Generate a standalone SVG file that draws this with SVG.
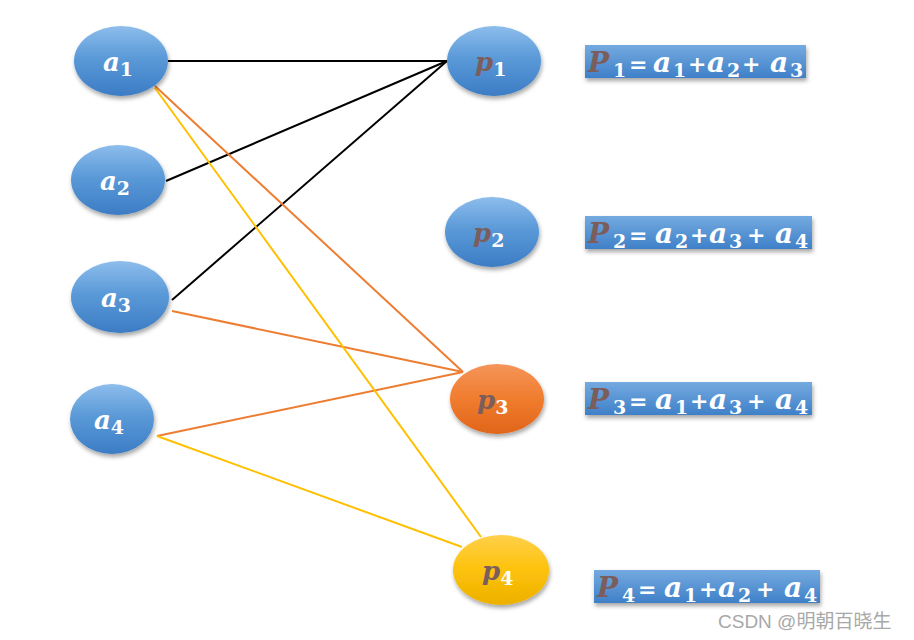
<svg xmlns="http://www.w3.org/2000/svg" width="914" height="640" viewBox="0 0 914 640">
<defs>
<linearGradient id="gBlue" x1="0" y1="0" x2="0" y2="1"><stop offset="0" stop-color="#8dbdec"/><stop offset="0.45" stop-color="#5b9ad8"/><stop offset="1" stop-color="#3c7cc4"/></linearGradient>
<linearGradient id="gOrange" x1="0" y1="0" x2="0" y2="1"><stop offset="0" stop-color="#f4955a"/><stop offset="0.5" stop-color="#f07c2e"/><stop offset="1" stop-color="#e0651a"/></linearGradient>
<linearGradient id="gYellow" x1="0" y1="0" x2="0" y2="1"><stop offset="0" stop-color="#ffd04a"/><stop offset="0.5" stop-color="#fdc20a"/><stop offset="1" stop-color="#ecb000"/></linearGradient>
<linearGradient id="gBox" x1="0" y1="0" x2="0" y2="1"><stop offset="0" stop-color="#74aae0"/><stop offset="1" stop-color="#3f80c8"/></linearGradient>
<filter id="sh" x="-20%" y="-20%" width="140%" height="150%"><feDropShadow dx="1" dy="3" stdDeviation="2" flood-color="#000" flood-opacity="0.35"/></filter>
</defs>
<style>
.lbl{font-family:"DejaVu Serif","Liberation Serif",serif;font-style:italic;font-weight:bold;font-size:26px;}
.sub{font-family:"DejaVu Serif","Liberation Serif",serif;font-style:normal;font-weight:bold;font-size:19px;fill:#fff;}
.w{fill:#fff;}
.br{fill:#7b5e5c;}
.fx{font-family:"DejaVu Serif","Liberation Serif",serif;font-weight:bold;font-size:22px;fill:#fff;}
.fx .it{font-style:italic;font-size:28px;}
.fx .s{font-size:19px;}
.blk{stroke:#000;stroke-width:2;fill:none;}
.org{stroke:#ed7d31;stroke-width:2;fill:none;}
.yel{stroke:#ffc000;stroke-width:2;fill:none;}
.box{fill:url(#gBox);filter:url(#sh);}
</style>
<rect width="914" height="640" fill="#fff"/>
<g id="connectors">
<line class="blk" x1="168" y1="61" x2="447" y2="61"/>
<line class="blk" x1="166" y1="181" x2="447" y2="61"/>
<line class="blk" x1="172" y1="300" x2="447" y2="61"/>
<line class="org" x1="155" y1="86" x2="463" y2="372"/>
<line class="org" x1="172" y1="311" x2="463" y2="372"/>
<line class="org" x1="157" y1="436" x2="463" y2="372"/>
<line class="yel" x1="155" y1="88" x2="481" y2="537"/>
<line class="yel" x1="157" y1="436" x2="462" y2="547"/>
</g>
<g id="a1"><ellipse cx="121" cy="61" rx="47" ry="35" fill="url(#gBlue)" filter="url(#sh)"/><text class="lbl w" x="103" y="71">a<tspan class="sub" dy="5">1</tspan></text></g>
<g id="a2"><ellipse cx="118" cy="180" rx="47" ry="35" fill="url(#gBlue)" filter="url(#sh)"/><text class="lbl w" x="100" y="190">a<tspan class="sub" dy="5">2</tspan></text></g>
<g id="a3"><ellipse cx="120" cy="297" rx="49" ry="36" fill="url(#gBlue)" filter="url(#sh)"/><text class="lbl w" x="101" y="307">a<tspan class="sub" dy="5">3</tspan></text></g>
<g id="a4"><ellipse cx="112" cy="419" rx="42" ry="35" fill="url(#gBlue)" filter="url(#sh)"/><text class="lbl w" x="94" y="429">a<tspan class="sub" dy="5">4</tspan></text></g>
<g id="p1"><ellipse cx="494" cy="61" rx="47" ry="35" fill="url(#gBlue)" filter="url(#sh)"/><text class="lbl br" x="475" y="71">p<tspan class="sub" dy="5">1</tspan></text></g>
<g id="p2"><ellipse cx="492" cy="232" rx="47" ry="35" fill="url(#gBlue)" filter="url(#sh)"/><text class="lbl br" x="473" y="242">p<tspan class="sub" dy="5">2</tspan></text></g>
<g id="p3"><ellipse cx="497" cy="399" rx="47" ry="35" fill="url(#gOrange)" filter="url(#sh)"/><text class="lbl br" x="477" y="409">p<tspan class="sub" dy="5">3</tspan></text></g>
<g id="p4"><ellipse cx="501" cy="570" rx="48" ry="35" fill="url(#gYellow)" filter="url(#sh)"/><text class="lbl br" x="482" y="580">p<tspan class="sub" dy="5">4</tspan></text></g>
<g id="f1"><rect class="box" x="585" y="45" width="221" height="33"/>
<text class="fx"><tspan class="it br" x="588" y="72">P</tspan><tspan class="s" x="613" y="77">1</tspan><tspan x="629" y="72">=</tspan><tspan class="it" x="653" y="72">a</tspan><tspan class="s" x="673" y="77">1</tspan><tspan x="688" y="72">+</tspan><tspan class="it" x="707" y="72">a</tspan><tspan class="s" x="727" y="77">2</tspan><tspan x="742" y="72">+</tspan><tspan class="it" x="770" y="72">a</tspan><tspan class="s" x="790" y="77">3</tspan></text></g>
<g id="f2"><rect class="box" x="585" y="216" width="227" height="33"/>
<text class="fx"><tspan class="it br" x="588" y="243">P</tspan><tspan class="s" x="613" y="248">2</tspan><tspan x="629" y="243">=</tspan><tspan class="it" x="655" y="243">a</tspan><tspan class="s" x="675" y="248">2</tspan><tspan x="690" y="243">+</tspan><tspan class="it" x="709" y="243">a</tspan><tspan class="s" x="729" y="248">3</tspan><tspan x="747" y="243">+</tspan><tspan class="it" x="775" y="243">a</tspan><tspan class="s" x="795" y="248">4</tspan></text></g>
<g id="f3"><rect class="box" x="585" y="382" width="227" height="33"/>
<text class="fx"><tspan class="it br" x="588" y="409">P</tspan><tspan class="s" x="613" y="414">3</tspan><tspan x="629" y="409">=</tspan><tspan class="it" x="655" y="409">a</tspan><tspan class="s" x="675" y="414">1</tspan><tspan x="690" y="409">+</tspan><tspan class="it" x="709" y="409">a</tspan><tspan class="s" x="729" y="414">3</tspan><tspan x="747" y="409">+</tspan><tspan class="it" x="775" y="409">a</tspan><tspan class="s" x="795" y="414">4</tspan></text></g>
<g id="f4"><rect class="box" x="594" y="570" width="226" height="33"/>
<text class="fx"><tspan class="it br" x="597" y="597">P</tspan><tspan class="s" x="622" y="602">4</tspan><tspan x="638" y="597">=</tspan><tspan class="it" x="664" y="597">a</tspan><tspan class="s" x="684" y="602">1</tspan><tspan x="699" y="597">+</tspan><tspan class="it" x="718" y="597">a</tspan><tspan class="s" x="738" y="602">2</tspan><tspan x="756" y="597">+</tspan><tspan class="it" x="784" y="597">a</tspan><tspan class="s" x="804" y="602">4</tspan></text></g>
<text x="718" y="628" font-family="'Liberation Sans','Noto Sans CJK SC',sans-serif" font-size="19" fill="#a8a8a8">CSDN @明朝百晓生</text>
</svg>
